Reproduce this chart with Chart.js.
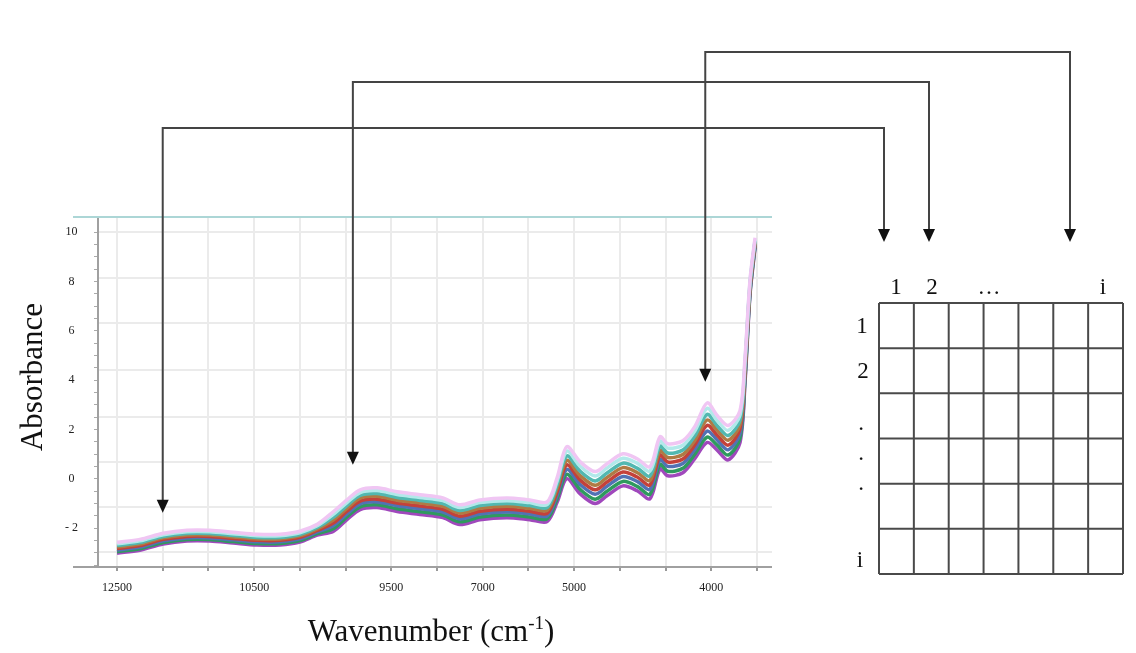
<!DOCTYPE html>
<html>
<head>
<meta charset="utf-8">
<script src="https://cdn.jsdelivr.net/npm/chart.js@4.4.1/dist/chart.umd.min.js"></script>
<style>
  html, body { margin: 0; padding: 0; background: #fff; }
  #wrap { position: relative; width: 1136px; height: 653px; }
</style>
</head>
<body>
<div id="wrap"><canvas id="spectra" width="1136" height="653"></canvas></div>
<script>
// position along the wavenumber axis, in grid steps (0 = 12500 tick)
const pos = [0, 0.50, 1.01, 1.53, 2.03, 2.54, 3.06, 3.57, 4.00, 4.38,
             4.73, 5.03, 5.32, 5.69, 6.13, 6.63, 7.13, 7.50, 7.94, 8.53,
             9.03, 9.41, 9.63, 9.84, 10.13, 10.46, 10.72, 11.07, 11.38, 11.66,
             11.88, 12.05, 12.38, 12.64, 12.91, 13.13, 13.37, 13.63, 13.74, 13.85, 13.96];

// x tick labels, one per grid step (blank = unlabelled tick)
const xTickLabels = ['12500', '', '', '10500', '', '', '9500', '', '7000', '', '5000', '', '', '4000', ''];
const yLabelValues = [-2, 0, 2, 4, 6, 8, 10];
// horizontal grid rows of the spectrometer screenshot (absorbance units)
const gridRows = [10.01, 8.15, 6.32, 4.42, 2.51, 0.69, -1.13, -2.96];

// spectra, top of the bundle to bottom
const specPink = [-2.58, -2.46, -2.21, -2.09, -2.09, -2.17, -2.25, -2.25, -2.13, -1.85,
                  -1.34, -0.86, -0.45, -0.37, -0.53, -0.65, -0.78, -1.06, -0.86, -0.78,
                  -0.86, -0.94, 0.05, 1.30, 0.69, 0.29, 0.61, 1.01, 0.81, 0.49,
                  1.70, 1.42, 1.54, 2.11, 3.07, 2.56, 2.16, 2.76, 4.92, 8.08, 9.77];
const specCyan = [-2.64, -2.52, -2.27, -2.15, -2.15, -2.23, -2.31, -2.31, -2.19, -1.91,
                  -1.45, -0.97, -0.56, -0.48, -0.64, -0.76, -0.89, -1.17, -0.97, -0.89,
                  -0.97, -1.05, -0.09, 1.12, 0.51, 0.11, 0.43, 0.83, 0.63, 0.31,
                  1.52, 1.24, 1.36, 1.93, 2.85, 2.36, 1.96, 2.58, 4.78, 8.00, 9.71];
const specTeal = [-2.71, -2.59, -2.34, -2.22, -2.22, -2.30, -2.38, -2.38, -2.26, -1.98,
                  -1.57, -1.09, -0.68, -0.60, -0.76, -0.88, -1.01, -1.29, -1.09, -1.01,
                  -1.09, -1.17, -0.24, 0.92, 0.31, -0.09, 0.23, 0.63, 0.43, 0.11,
                  1.32, 1.04, 1.16, 1.73, 2.61, 2.15, 1.75, 2.38, 4.63, 7.91, 9.65];
const specBrown = [-2.77, -2.65, -2.40, -2.28, -2.28, -2.36, -2.44, -2.44, -2.32, -2.04,
                   -1.68, -1.20, -0.79, -0.71, -0.87, -0.99, -1.12, -1.40, -1.20, -1.12,
                   -1.20, -1.28, -0.38, 0.74, 0.13, -0.27, 0.05, 0.45, 0.25, -0.07,
                   1.14, 0.86, 0.98, 1.55, 2.38, 1.96, 1.56, 2.20, 4.49, 7.82, 9.60];
const specRed = [-2.83, -2.71, -2.46, -2.34, -2.34, -2.42, -2.50, -2.50, -2.38, -2.10,
                 -1.80, -1.32, -0.91, -0.83, -0.99, -1.11, -1.24, -1.52, -1.32, -1.24,
                 -1.32, -1.40, -0.52, 0.56, -0.05, -0.45, -0.13, 0.27, 0.07, -0.25,
                 0.96, 0.68, 0.80, 1.37, 2.16, 1.76, 1.36, 2.02, 4.35, 7.74, 9.54];
const specBlue = [-2.89, -2.77, -2.52, -2.40, -2.40, -2.48, -2.56, -2.56, -2.44, -2.16,
                  -1.91, -1.43, -1.02, -0.94, -1.10, -1.22, -1.35, -1.63, -1.43, -1.35,
                  -1.43, -1.51, -0.66, 0.38, -0.23, -0.63, -0.31, 0.09, -0.11, -0.43,
                  0.78, 0.50, 0.62, 1.19, 1.93, 1.57, 1.17, 1.84, 4.21, 7.65, 9.49];
const specGreen = [-2.96, -2.84, -2.59, -2.47, -2.47, -2.55, -2.63, -2.63, -2.51, -2.23,
                   -2.03, -1.55, -1.14, -1.06, -1.22, -1.34, -1.47, -1.75, -1.55, -1.47,
                   -1.55, -1.63, -0.81, 0.18, -0.43, -0.83, -0.51, -0.11, -0.31, -0.63,
                   0.58, 0.30, 0.42, 0.99, 1.69, 1.36, 0.96, 1.64, 4.06, 7.56, 9.43];
const specPurple = [-3.02, -2.90, -2.65, -2.53, -2.53, -2.61, -2.69, -2.69, -2.57, -2.29,
                    -2.14, -1.66, -1.25, -1.17, -1.33, -1.45, -1.58, -1.86, -1.66, -1.58,
                    -1.66, -1.74, -0.95, 0.00, -0.61, -1.01, -0.69, -0.29, -0.49, -0.81,
                    0.40, 0.12, 0.24, 0.81, 1.47, 1.16, 0.76, 1.46, 3.92, 7.48, 9.37];

const seriesList = [specPink, specCyan, specTeal, specBrown, specRed, specBlue, specGreen, specPurple];
const seriesColors = ['#f0c6f3', '#b2e9ea', '#52b8b0', '#b07a44', '#c4413a', '#5272b4', '#2f9a5e', '#a048bc'];

// arrows: where each one points on the spectrum (x in grid steps, y in absorbance)
const arrowAt = [1.0, 5.16, 12.87];
const arrowTip = [-1.38, 0.57, 3.93];

const datasets = seriesList.map((vals, i) => ({
    data: vals.map((v, j) => ({ x: pos[j], y: v })),
    borderColor: seriesColors[i],
    borderWidth: 3.5,
    pointRadius: 0,
    tension: 0.3,
    fill: false
}));

function line(ctx, x1, y1, x2, y2) {
    ctx.beginPath();
    ctx.moveTo(x1, y1);
    ctx.lineTo(x2, y2);
    ctx.stroke();
}

function head(ctx, x, tip) {
    ctx.beginPath();
    ctx.moveTo(x - 6, tip - 13);
    ctx.lineTo(x + 6, tip - 13);
    ctx.lineTo(x, tip);
    ctx.closePath();
    ctx.fill();
}

const diagram = {
    id: 'diagram',
    afterDraw(chart) {
        const ctx = chart.ctx;
        const xs = chart.scales.x, ys = chart.scales.y;
        const area = chart.chartArea;
        ctx.save();

        // axis line and the cyan top rule of the screenshot
        ctx.lineWidth = 2;
        ctx.strokeStyle = '#a0a0a0';
        line(ctx, 73, area.bottom, area.right, area.bottom);
        ctx.strokeStyle = '#acd6d6';
        line(ctx, 73, 217, area.right, 217);

        // arrows from the spectrum to the matrix columns
        const tops = [128, 82, 52];
        const cols = [884, 929, 1070];
        ctx.strokeStyle = '#444';
        ctx.fillStyle = '#111';
        ctx.lineWidth = 2;
        arrowAt.forEach((a, i) => {
            const x = xs.getPixelForValue(a);
            const tip = ys.getPixelForValue(arrowTip[i]);
            ctx.beginPath();
            ctx.moveTo(x, tip - 10);
            ctx.lineTo(x, tops[i]);
            ctx.lineTo(cols[i], tops[i]);
            ctx.lineTo(cols[i], 232);
            ctx.stroke();
            head(ctx, x, tip);
            head(ctx, cols[i], 242);
        });

        // data matrix
        const mL = 879, mR = 1123, mT = 303, mB = 574;
        const nC = 7, nR = 6;
        ctx.strokeStyle = '#4a4a4a';
        ctx.lineWidth = 2;
        for (let c = 0; c <= nC; c++) {
            const x = mL + (mR - mL) * c / nC;
            line(ctx, x, mT, x, mB);
        }
        for (let r = 0; r <= nR; r++) {
            const y = mT + (mB - mT) * r / nR;
            line(ctx, mL, y, mR, y);
        }

        ctx.fillStyle = '#111';
        ctx.font = '23px "Liberation Serif", serif';
        ctx.textAlign = 'center';
        ctx.textBaseline = 'alphabetic';
        ctx.fillText('1', 896, 294);
        ctx.fillText('2', 932, 294);
        ctx.fillText('\u2026', 989, 294);
        ctx.fillText('i', 1103, 294);
        ctx.fillText('1', 862, 333);
        ctx.fillText('2', 863, 378);
        ctx.fillText('.', 861, 430);
        ctx.fillText('.', 861, 460);
        ctx.fillText('.', 861, 490);
        ctx.fillText('i', 860, 567);

        // axis titles
        ctx.font = '31px "Liberation Serif", serif';
        ctx.textBaseline = 'middle';
        ctx.save();
        ctx.translate(34, 377);
        ctx.rotate(-Math.PI / 2);
        ctx.fillText('Absorbance', 0, 0);
        ctx.restore();

        const main = 'Wavenumber (cm';
        const sup = '-1';
        const close = ')';
        ctx.textBaseline = 'alphabetic';
        ctx.textAlign = 'left';
        ctx.font = '31px "Liberation Serif", serif';
        const wMain = ctx.measureText(main).width;
        const wClose = ctx.measureText(close).width;
        ctx.font = '19px "Liberation Serif", serif';
        const wSup = ctx.measureText(sup).width;
        let x0 = 431 - (wMain + wSup + wClose) / 2;
        ctx.font = '31px "Liberation Serif", serif';
        ctx.fillText(main, x0, 641);
        ctx.font = '19px "Liberation Serif", serif';
        ctx.fillText(sup, x0 + wMain, 629);
        ctx.font = '31px "Liberation Serif", serif';
        ctx.fillText(close, x0 + wMain + wSup, 641);

        ctx.restore();
    }
};

new Chart(document.getElementById('spectra'), {
    type: 'line',
    data: { datasets: datasets },
    plugins: [diagram],
    options: {
        responsive: false,
        animation: false,
        layout: { padding: { left: 0, top: 218, right: 364, bottom: 0 } },
        plugins: { legend: { display: false }, tooltip: { enabled: false } },
        scales: {
            x: {
                type: 'linear',
                min: -0.416,
                max: 14.33,
                afterFit: s => { s.height = 86; },
                afterBuildTicks: s => { s.ticks = xTickLabels.map((_, i) => ({ value: i })); },
                ticks: {
                    callback: v => xTickLabels[Math.round(v)],
                    color: '#222',
                    font: { family: 'Liberation Serif', size: 12 },
                    padding: 10,
                    maxRotation: 0,
                    autoSkip: false
                },
                grid: { color: '#ebebeb', lineWidth: 2, tickLength: 4, tickColor: '#999' },
                border: { display: false }
            },
            y: {
                type: 'linear',
                position: 'left',
                min: -3.58,
                max: 10.57,
                afterFit: s => { s.width = 98; },
                afterBuildTicks: s => {
                    const t = [];
                    for (let v = -3.5; v <= 10; v += 0.5) t.push({ value: v });
                    s.ticks = t;
                },
                ticks: {
                    callback: v => yLabelValues.includes(v) ? (v < 0 ? '- ' + Math.abs(v) : String(v)) : '',
                    color: '#222',
                    font: { family: 'Liberation Serif', size: 12 },
                    crossAlign: 'center',
                    padding: 16,
                    autoSkip: false
                },
                grid: { drawOnChartArea: false, tickLength: 4, tickColor: '#aaa' },
                border: { color: '#a0a0a0', width: 2 }
            },
            yGrid: {
                type: 'linear',
                position: 'left',
                min: -3.58,
                max: 10.57,
                afterFit: s => { s.width = 0; },
                afterBuildTicks: s => { s.ticks = gridRows.map(v => ({ value: v })); },
                ticks: { display: false },
                grid: { color: '#ebebeb', lineWidth: 2, drawTicks: false },
                border: { display: false }
            }
        }
    }
});
</script>
</body>
</html>
